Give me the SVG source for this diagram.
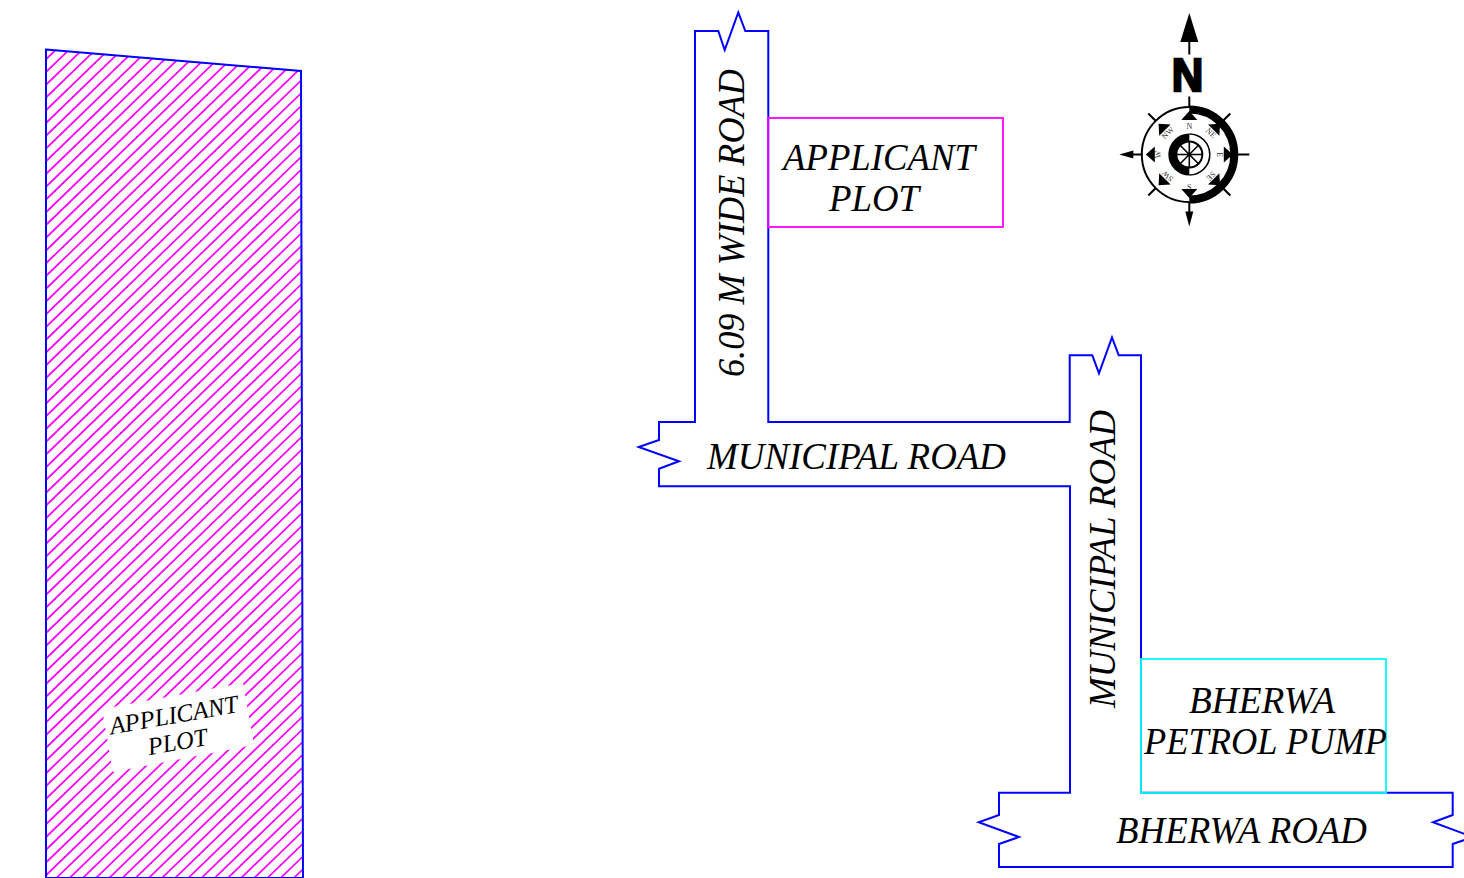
<svg xmlns="http://www.w3.org/2000/svg" width="1464" height="878" viewBox="0 0 1464 878">
<style>
.lbl{font-family:"Liberation Serif","Times New Roman",serif;font-style:italic;font-size:37px;fill:#000}
.sm{font-size:25px}
.road{fill:none;stroke:#0000ff;stroke-width:2;stroke-linejoin:miter}
.k{stroke:#000;fill:none}
.cl{font-family:"Liberation Serif","Times New Roman",serif;font-size:8px;fill:#333;text-anchor:middle}
</style>
<defs>
<clipPath id="plot-clip"><polygon points="46,49.5 301,71 303,878 46,878"/></clipPath>
<path id="tri" d="M0,-43.5 L8,-34.5 L-8,-34.5 Z" fill="#000"/>
</defs>
<rect width="1464" height="878" fill="#fff"/>
<g id="applicant-plot-hatched">
<path clip-path="url(#plot-clip)" fill="none" stroke="#ff00ff" stroke-width="1.7" d="M46,59.3l300-290m-300,302.75l300-290m-300,302.75l300-290m-300,302.75l300-290m-300,302.75l300-290m-300,302.75l300-290m-300,302.75l300-290m-300,302.75l300-290m-300,302.75l300-290m-300,302.75l300-290m-300,302.75l300-290m-300,302.75l300-290m-300,302.75l300-290m-300,302.75l300-290m-300,302.75l300-290m-300,302.75l300-290m-300,302.75l300-290m-300,302.75l300-290m-300,302.75l300-290m-300,302.75l300-290m-300,302.75l300-290m-300,302.75l300-290m-300,302.75l300-290m-300,302.75l300-290m-300,302.75l300-290m-300,302.75l300-290m-300,302.75l300-290m-300,302.75l300-290m-300,302.75l300-290m-300,302.75l300-290m-300,302.75l300-290m-300,302.75l300-290m-300,302.75l300-290m-300,302.75l300-290m-300,302.75l300-290m-300,302.75l300-290m-300,302.75l300-290m-300,302.75l300-290m-300,302.75l300-290m-300,302.75l300-290m-300,302.75l300-290m-300,302.75l300-290m-300,302.75l300-290m-300,302.75l300-290m-300,302.75l300-290m-300,302.75l300-290m-300,302.75l300-290m-300,302.75l300-290m-300,302.75l300-290m-300,302.75l300-290m-300,302.75l300-290m-300,302.75l300-290m-300,302.75l300-290m-300,302.75l300-290m-300,302.75l300-290m-300,302.75l300-290m-300,302.75l300-290m-300,302.75l300-290m-300,302.75l300-290m-300,302.75l300-290m-300,302.75l300-290m-300,302.75l300-290m-300,302.75l300-290m-300,302.75l300-290m-300,302.75l300-290m-300,302.75l300-290m-300,302.75l300-290m-300,302.75l300-290m-300,302.75l300-290m-300,302.75l300-290m-300,302.75l300-290m-300,302.75l300-290m-300,302.75l300-290m-300,302.75l300-290m-300,302.75l300-290m-300,302.75l300-290m-300,302.75l300-290m-300,302.75l300-290m-300,302.75l300-290m-300,302.75l300-290m-300,302.75l300-290m-300,302.75l300-290m-300,302.75l300-290m-300,302.75l300-290m-300,302.75l300-290m-300,302.75l300-290m-300,302.75l300-290m-300,302.75l300-290"/>
<polygon points="46,49.5 301,71 303,878 46,878" fill="none" stroke="#0000ff" stroke-width="2"/>
<polygon points="102,709 243,683 254,745 113,772" fill="#fff"/>
<g transform="rotate(-10 177 728)">
<text x="176" y="723" class="lbl sm" text-anchor="middle" textLength="130" lengthAdjust="spacingAndGlyphs">APPLICANT</text>
<text x="175" y="750" class="lbl sm" text-anchor="middle" textLength="60" lengthAdjust="spacingAndGlyphs">PLOT</text>
</g>
</g>
<g id="roads">
<path class="road" d="M768.3,422 V31 H745.3 L738.3,12.3 L724.7,50 L718.3,31 H695 V422 H659 V440 L638.7,447 L679,461.3 L659,468.7 V486.3 H1070 V792.7 H999 V815 L978.7,822.3 L1019,837 L999,844 V867 H1452.7 V844 L1473,837 L1433,822.3 L1452.7,815 V792.7 H1141 V355.3 H1118.7 L1112,337.3 L1099,373.3 L1092.3,355.3 H1069.7 V422 Z"/>
</g>
<g id="applicant-plot-key">
<rect x="768" y="118" width="235" height="109" fill="none" stroke="#ff00ff" stroke-width="1.8"/>
<text class="lbl" x="783" y="170" textLength="192" lengthAdjust="spacingAndGlyphs">APPLICANT</text>
<text class="lbl" x="829" y="211" textLength="90" lengthAdjust="spacingAndGlyphs">PLOT</text>
</g>
<g id="petrol-pump">
<rect x="1141" y="659" width="245" height="134" fill="none" stroke="#00ffff" stroke-width="1.8"/>
<text class="lbl" x="1189" y="713" textLength="146" lengthAdjust="spacingAndGlyphs">BHERWA</text>
<text class="lbl" x="1144" y="753.5" textLength="243" lengthAdjust="spacingAndGlyphs">PETROL PUMP</text>
</g>
<g id="road-labels">
<text class="lbl" x="707" y="469" textLength="299" lengthAdjust="spacingAndGlyphs">MUNICIPAL ROAD</text>
<text class="lbl" x="1116" y="843" textLength="251" lengthAdjust="spacingAndGlyphs">BHERWA ROAD</text>
<text class="lbl" transform="translate(744,377) rotate(-90)" textLength="308" lengthAdjust="spacingAndGlyphs">6.09 M WIDE ROAD</text>
<text class="lbl" transform="translate(1115,708) rotate(-90)" textLength="298" lengthAdjust="spacingAndGlyphs">MUNICIPAL ROAD</text>
</g>
<g id="north-arrow" transform="translate(1189.3,154.5)">
<path d="M0,-141.5 L9,-112.5 L-9,-112.5 Z" fill="#000"/>
<path class="k" stroke-width="2" d="M0,-113V-100M0,-58V-47M0,48V60M47,0H60M-47,0H-60M-33.5,-33.5L-41,-41M33.5,-33.5L41,-41M33.5,33.5L41,41M-33.5,33.5L-41,41"/>
<path d="M-70,0 L-56,-4 L-56,4 Z" fill="#000"/>
<path d="M0,72 L-4,57 L4,57 Z" fill="#000"/>
<text transform="translate(-1.8,-64) scale(0.95,1)" text-anchor="middle" style="font-family:'Liberation Sans',Arial,sans-serif;font-weight:700;font-size:46px;stroke:#000;stroke-width:2.4" fill="#000">N</text>
<path class="k" stroke-width="7" d="M0,-45.5 A45.5,45.5 0 0 1 0,45.5"/>
<path class="k" stroke-width="2" d="M0,47.5 A47.5,47.5 0 0 1 0,-47.5 M0,42 A42,42 0 0 0 0,-42"/>
<use href="#tri"/><use href="#tri" transform="rotate(45)"/><use href="#tri" transform="rotate(90)"/><use href="#tri" transform="rotate(135)"/><use href="#tri" transform="rotate(180)"/><use href="#tri" transform="rotate(225)"/><use href="#tri" transform="rotate(270)"/><use href="#tri" transform="rotate(315)"/>
<text class="cl" transform="translate(0,-26)">N</text>
<text class="cl" transform="rotate(45) translate(0,-28)">NE</text>
<text class="cl" transform="rotate(90) translate(0,-28)">E</text>
<text class="cl" transform="rotate(135) translate(0,-28)">SE</text>
<text class="cl" transform="translate(0,35)">S</text>
<text class="cl" transform="rotate(225) translate(0,-28)">SW</text>
<text class="cl" transform="rotate(270) translate(0,-28)">W</text>
<text class="cl" transform="rotate(315) translate(0,-28)">NW</text>
<path d="M0,-21 A21,21 0 0 0 0,21 Z" fill="#000"/>
<path class="k" stroke-width="1.6" d="M0,-20.5 A20.5,20.5 0 0 1 0,20.5"/>
<circle r="13" fill="#fff" stroke="#000" stroke-width="2"/>
<path class="k" stroke-width="1.6" d="M0,-13V13M-13,0H13M-9.2,-9.2L9.2,9.2M-9.2,9.2L9.2,-9.2"/>
</g>
</svg>
